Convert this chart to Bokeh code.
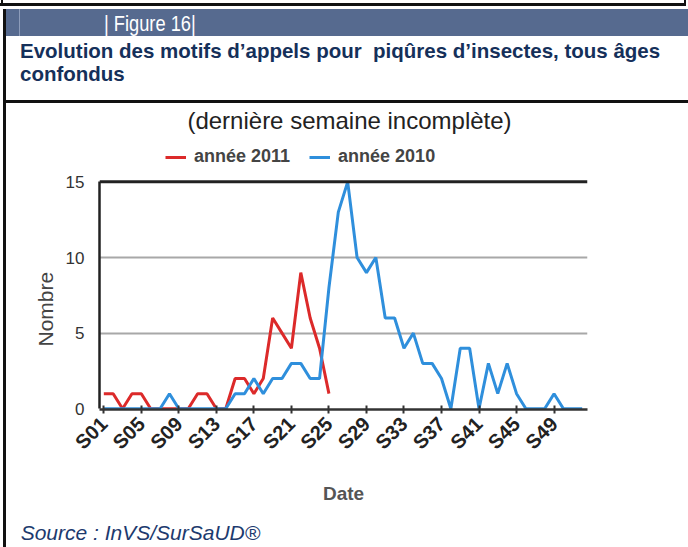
import math
from bokeh.plotting import figure
from bokeh.layouts import row, column
from bokeh.models import Range1d, FixedTicker, Span, Legend, LegendItem, Div, Title
from bokeh.embed import file_html
from bokeh.resources import INLINE

# ---- data ----
weeks_2011 = list(range(1, 26))
calls_2011 = [1, 1, 0, 1, 1, 0, 0, 0, 0, 0, 1, 1, 0, 0, 2, 2, 1, 2, 6, 5, 4, 9, 6, 4, 1]
weeks_2010 = list(range(1, 53))
calls_2010 = [0, 0, 0, 0, 0, 0, 0, 1, 0, 0, 0, 0, 0, 0,
              1, 1, 2, 1, 2, 2, 3, 3, 2, 2, 8,
              13, 15, 10, 9, 10, 6, 6, 4, 5, 3, 3, 2,
              0, 4, 4, 0, 3, 1, 3, 1, 0, 0, 0, 1, 0, 0, 0]
tick_weeks = [1, 5, 9, 13, 17, 21, 25, 29, 33, 37, 41, 45, 49]
tick_labels = ["S01", "S05", "S09", "S13", "S17", "S21", "S25", "S29", "S33",
               "S37", "S41", "S45", "S49"]
y_ticks = [0, 5, 10, 15]
y_grid = [5, 10]
y_max = 15
series_names = ["année 2011", "année 2010"]
figure_tag = "| Figure 16|"
title_line1 = "Evolution des motifs d’appels pour  piqûres d’insectes, tous âges"
title_line2 = "confondus"
subtitle = "(dernière semaine incomplète)"
source = "Source : InVS/SurSaUD®"
x_title = "Date"
y_title = "Nombre"

FONT = "'Liberation Sans', Arial, sans-serif"
W, H = 688, 547
STRIP = 7            # width of the left border strip
HEAD_H = 140         # header height
FOOT_Y = 510         # top of footer
FL, FB = 99, 409     # frame left / bottom in page pixels
FW = 488
PX_PER_UNIT = 15.13
BLACK = "#111111"
BANNER = "#566a8f"
NAVY = "#15305a"
ASC = 0.8465         # baseline position for line-height:1 (Liberation Sans)


def rect(x, y, w, h, color):
    return (f'<div style="position:absolute;left:{x}px;top:{y}px;width:{w}px;'
            f'height:{h}px;background:{color};"></div>')


def text(x, baseline, s, size, color, weight="normal", style="normal",
         width=None, align="left", font=FONT, sx=1.0):
    top = baseline - ASC * size
    wcss = f"width:{width}px;" if width else ""
    tcss = f"transform:scaleX({sx});transform-origin:left top;" if sx != 1.0 else ""
    return (f'<div style="position:absolute;left:{x}px;top:{top:.2f}px;{wcss}{tcss}'
            f'text-align:{align};white-space:pre;font-family:{font};'
            f'font-size:{size}px;line-height:{size}px;font-weight:{weight};'
            f'font-style:{style};color:{color};">{s}</div>')


def panel(w, h, parts):
    return (f'<div style="position:relative;width:{w}px;height:{h}px;'
            f'overflow:hidden;background:white;">' + "".join(parts) + "</div>")


# ---- left strip ----
strip_parts = [rect(0, 3.3, STRIP, 2.7, BLACK), rect(0.5, 0, 2.5, 6, BLACK),
               rect(6, 9, 1, 27, BANNER), rect(3.3, 9, 2.7, H - 9, BLACK),
               rect(3.3, 100, STRIP - 3.3, 3.3, BLACK)]
strip = Div(text=panel(STRIP, H, strip_parts), width=STRIP, height=H, margin=0)

# ---- header ----
ox = STRIP
head_parts = [rect(0, 3.3, 686 - ox, 2.7, BLACK), rect(683.5 - ox, 0, 2.5, 6, BLACK),
              rect(0, 9, W - ox, 27, BANNER), rect(18.5 - ox, 9, 1, 27, "#8d9cba"),
              rect(0, 100, W - ox, 3.3, BLACK),
              text(104 - ox, 31.5, figure_tag, 22, "white", sx=0.83),
              text(20 - ox, 58.5, title_line1, 20.5, NAVY, weight="bold"),
              text(20 - ox, 81.5, title_line2, 20.5, NAVY, weight="bold"),
              text(349.5 - ox - 300, 129.5, subtitle, 24, "#222222", width=600,
                   align="center")]
head = Div(text=panel(W - ox, HEAD_H, head_parts), width=W - ox, height=HEAD_H, margin=0)

# ---- chart ----
CW = W - STRIP
CH = FOOT_Y - HEAD_H
FH = FB - HEAD_H                       # frame reaches up to the header
y0 = -0.7 / PX_PER_UNIT
p = figure(width=CW, height=CH, output_backend="svg", toolbar_location=None,
           x_range=Range1d(0.54, 0.54 + FW / 9.38),
           y_range=Range1d(y0, y0 + FH / PX_PER_UNIT),
           min_border_left=FL - STRIP, min_border_right=CW - (FL - STRIP) - FW,
           min_border_top=0, min_border_bottom=FOOT_Y - FB, margin=0)
p.outline_line_color = None
p.background_fill_color = "white"
p.border_fill_color = "white"

p.xgrid.visible = False
p.ygrid.ticker = FixedTicker(ticks=y_grid)
p.ygrid.grid_line_color = "#a8a8a8"
p.ygrid.grid_line_width = 2
p.add_layout(Span(location=y_max, dimension="width", line_color="#222222", line_width=3))

AXFONT = "Liberation Sans"
xa = p.xaxis[0]
xa.ticker = FixedTicker(ticks=tick_weeks)
xa.major_label_overrides = {w: s for w, s in zip(tick_weeks, tick_labels)}
xa.major_label_orientation = math.pi / 4
xa.major_label_text_font = AXFONT
xa.major_label_text_font_size = "20px"
xa.major_label_text_font_style = "bold"
xa.major_label_text_color = "#222222"
xa.axis_line_color = "#333333"
xa.axis_line_width = 2.5
xa.major_tick_in = 4
xa.major_tick_out = 4
xa.major_tick_line_color = "#333333"
xa.major_tick_line_width = 2
xa.minor_tick_line_color = None
xa.major_label_standoff = 7
xa.axis_label = x_title
xa.axis_label_text_font = AXFONT
xa.axis_label_text_font_size = "19px"
xa.axis_label_text_font_style = "bold"
xa.axis_label_text_color = "#555555"
xa.axis_label_standoff = 19

ya = p.yaxis[0]
ya.ticker = FixedTicker(ticks=y_ticks)
ya.bounds = (0, y_max)
ya.major_label_text_font = AXFONT
ya.major_label_text_font_size = "17px"
ya.major_label_text_color = "#333333"
ya.axis_line_color = "#222222"
ya.axis_line_width = 2.5
ya.major_tick_in = 0
ya.major_tick_out = 0
ya.minor_tick_line_color = None
ya.major_label_standoff = 15

# y-axis title, centred on the 0..15 part of the axis
p.add_layout(Title(text=y_title, align="left", offset=63, standoff=12,
                   text_font=AXFONT, text_font_size="21px", text_font_style="normal",
                   text_color="#444444"), "left")

r11 = p.line(weeks_2011, calls_2011, line_color="#dc2a2a", line_width=3)
r10 = p.line(weeks_2010, calls_2010, line_color="#2f8fdc", line_width=3)

legend = Legend(items=[LegendItem(label=series_names[0], renderers=[r11]),
                       LegendItem(label=series_names[1], renderers=[r10])],
                orientation="horizontal", location=(66, FB - 167),
                padding=0, margin=0, spacing=19, glyph_width=21, glyph_height=20,
                label_standoff=8, label_height=20,
                label_text_font=AXFONT, label_text_font_size="18px",
                label_text_font_style="bold", label_text_color="#444444",
                border_line_alpha=0, background_fill_alpha=0)
p.add_layout(legend, "center")

# ---- footer ----
foot_parts = [text(20.7 - ox, 540 - FOOT_Y, source, 21, "#1d3a6e", style="italic")]
foot = Div(text=panel(W - ox, H - FOOT_Y, foot_parts), width=W - ox,
           height=H - FOOT_Y, margin=0)

layout = row(strip, column(head, p, foot, spacing=0), spacing=0)
open("out.html", "w").write(file_html(layout, INLINE))
